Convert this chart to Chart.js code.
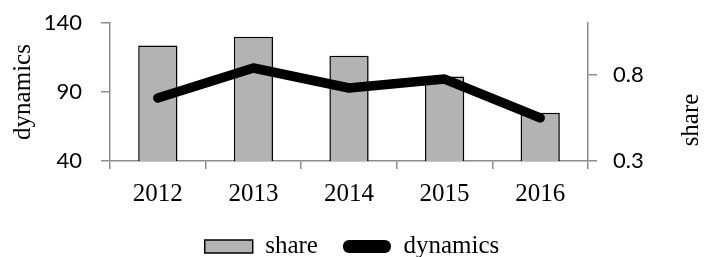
<!DOCTYPE html>
<html>
<head>
<meta charset="utf-8">
<script src="https://cdn.jsdelivr.net/npm/chart.js@4/dist/chart.umd.min.js"></script>
<style>
  html, body { margin: 0; padding: 0; background: #fff; }
  #wrap { width: 704px; height: 257px; }
</style>
</head>
<body>
<div id="wrap"><canvas id="chart" width="704" height="257"></canvas></div>
<script>
const years = ['2012', '2013', '2014', '2015', '2016'];
const share = [0.97, 1.02, 0.91, 0.79, 0.58];      // bars, right axis
const dynamics = [85.7, 107.4, 92.9, 99.4, 71.2];  // line, left axis
const dynTicks = [40, 90, 140];
const shareTicks = [0.3, 0.8];

const serif = 'Liberation Serif';
const sans = 'Lato';
const axisGray = '#8c8c8c';

// right axis title reads bottom-to-top, like the left one
const rightTitle = {
  id: 'rightTitle',
  afterDraw(chart) {
    const c = chart.ctx;
    c.save();
    c.translate(691, 120);
    c.rotate(-Math.PI / 2);
    c.font = '25px "' + serif + '"';
    c.fillStyle = '#000';
    c.textAlign = 'center';
    c.textBaseline = 'middle';
    c.fillText('share', 0, 0);
    c.restore();
  }
};

// soft shadow behind the bars
const barShadow = {
  id: 'barShadow',
  beforeDatasetDraw(chart, args) {
    if (args.index !== 0) return;
    const c = chart.ctx;
    c.save();
    c.shadowColor = 'rgba(0,0,0,0.3)';
    c.shadowBlur = 3;
    c.shadowOffsetX = 2;
    c.shadowOffsetY = 1;
  },
  afterDatasetDraw(chart, args) {
    if (args.index !== 0) return;
    chart.ctx.restore();
  }
};

const ctx = document.getElementById('chart').getContext('2d');
const chart = new Chart(ctx, {
  type: 'bar',
  data: {
    labels: years,
    datasets: [
      {
        label: 'share',
        data: share,
        yAxisID: 'y1',
        backgroundColor: '#b3b3b3',
        borderColor: '#000',
        borderWidth: 1.5,
        barPercentage: 0.41,
        categoryPercentage: 1,
        order: 1
      },
      {
        type: 'line',
        label: 'dynamics',
        data: dynamics,
        yAxisID: 'y',
        borderColor: '#000',
        backgroundColor: '#000',
        borderWidth: 9.5,
        borderCapStyle: 'round',
        borderJoinStyle: 'round',
        pointRadius: 0,
        tension: 0,
        order: 0
      }
    ]
  },
  options: {
    responsive: false,
    animation: false,
    layout: { padding: { top: 23, left: 0, right: 0, bottom: -12 } },
    plugins: {
      tooltip: { enabled: false },
      legend: {
        position: 'bottom',
        labels: {
          font: { family: serif, size: 25 },
          color: '#000',
          boxWidth: 48,
          boxHeight: 13,
          padding: 25,
          generateLabels(chart) {
            const items = Chart.defaults.plugins.legend.labels.generateLabels(chart);
            items.sort((a, b) => a.datasetIndex - b.datasetIndex);
            items.forEach(it => {
              if (it.text === 'dynamics') {
                it.fillStyle = '#000';
                it.lineWidth = 0;
                it.borderRadius = 6;
              } else {
                it.fillStyle = '#b3b3b3';
                it.strokeStyle = '#000';
                it.lineWidth = 1.5;
                it.borderRadius = 0;
              }
            });
            return items;
          }
        }
      }
    },
    scales: {
      x: {
        grid: { offset: true, drawOnChartArea: false, color: axisGray, lineWidth: 1.5, tickLength: 8 },
        border: { color: axisGray, width: 1.5 },
        ticks: { font: { family: serif, size: 25 }, color: '#000', padding: 10, maxRotation: 0 },
        afterFit: s => { s.height = 48; }
      },
      y: {
        position: 'left',
        min: 40,
        max: 140,
        afterBuildTicks: s => { s.ticks = dynTicks.map(v => ({ value: v })); },
        grid: { drawOnChartArea: false, color: axisGray, lineWidth: 1.5, tickLength: 9 },
        border: { color: axisGray, width: 1.5 },
        ticks: { font: { family: sans, size: 22 }, color: '#000', padding: 19 },
        title: { display: true, text: 'dynamics', font: { family: serif, size: 25 }, color: '#000', padding: { top: 8 } },
        afterFit: s => { s.width = 110; s.paddingTop = 10; s.paddingBottom = 10; }
      },
      y1: {
        position: 'right',
        min: 0.3,
        max: 1.1,
        afterBuildTicks: s => { s.ticks = shareTicks.map(v => ({ value: v })); },
        grid: { drawOnChartArea: false, color: axisGray, lineWidth: 1.5, tickLength: 9 },
        border: { color: axisGray, width: 1.5 },
        ticks: { font: { family: sans, size: 22 }, color: '#000', padding: 16 },
        afterFit: s => { s.width = 116; s.paddingTop = 10; s.paddingBottom = 10; }
      }
    }
  },
  plugins: [rightTitle, barShadow]
});
</script>
</body>
</html>
